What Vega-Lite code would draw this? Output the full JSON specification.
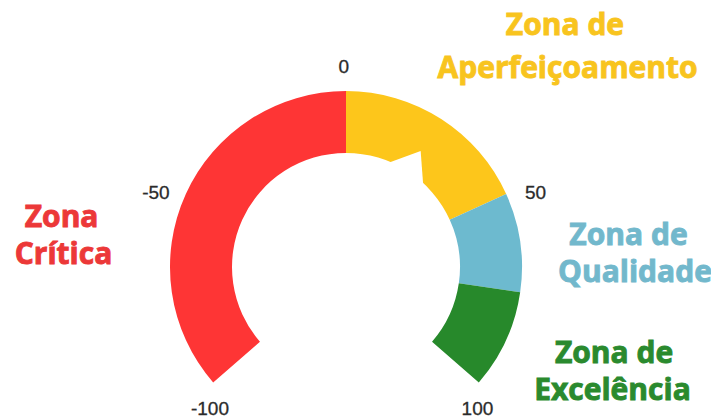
{
  "$schema": "https://vega.github.io/schema/vega-lite/v6.json",
  "width": 711,
  "height": 418,
  "autosize": {"type": "none"},
  "padding": 0,
  "background": "white",
  "config": {"view": {"stroke": null}},
  "datasets": {
    "zonas": [
      {"zona": "Crítica", "de": -100, "ate": 0},
      {"zona": "Aperfeiçoamento", "de": 0, "ate": 50},
      {"zona": "Qualidade", "de": 50, "ate": 75},
      {"zona": "Excelência", "de": 75, "ate": 100}
    ],
    "nps": [{"nps": 25}],
    "escala": [
      {"rotulo": "-100", "x": -77.3, "y": -84.1},
      {"rotulo": "-50", "x": -108.0, "y": 38.6},
      {"rotulo": "0", "x": -1.3, "y": 110.2},
      {"rotulo": "50", "x": 107.7, "y": 38.6},
      {"rotulo": "100", "x": 74.7, "y": -84.1}
    ],
    "titulos": [
      {"zona": "Crítica", "linha": "Zona", "x": -161.6, "y": 22.7},
      {"zona": "Crítica", "linha": "Crítica", "x": -160.5, "y": 1.7},
      {"zona": "Aperfeiçoamento", "linha": "Zona de", "x": 124.4, "y": 131.8},
      {"zona": "Aperfeiçoamento", "linha": "Aperfeiçoamento", "x": 125.9, "y": 107.4},
      {"zona": "Qualidade", "linha": "Zona de", "x": 160.5, "y": 12.5},
      {"zona": "Qualidade", "linha": "Qualidade", "x": 164.2, "y": -8.5},
      {"zona": "Excelência", "linha": "Zona de", "x": 152.3, "y": -54.5},
      {"zona": "Excelência", "linha": "Excelência", "x": 151.4, "y": -75.6}
    ]
  },
  "resolve": {"scale": {"color": "independent"}},
  "layer": [
    {
      "data": {"name": "zonas"},
      "mark": {"type": "arc", "innerRadius": 114, "outerRadius": 176},
      "encoding": {
        "x": {"datum": 0, "type": "quantitative", "scale": {"domain": [-196.59, 207.39], "nice": false, "zero": false}, "axis": null},
        "y": {"datum": 0, "type": "quantitative", "scale": {"domain": [-85.8, 151.7], "nice": false, "zero": false}, "axis": null},
        "theta": {"field": "de", "type": "quantitative", "stack": null, "scale": {"domain": [-100, 100], "range": [-2.2864, 2.2864]}},
        "theta2": {"field": "ate"},
        "color": {"field": "zona", "type": "nominal", "legend": null,
          "scale": {"domain": ["Crítica", "Aperfeiçoamento", "Qualidade", "Excelência"], "range": ["#FE3535", "#FDC61B", "#6DBACF", "#27892B"]}}
      }
    },
    {
      "data": {"name": "nps"},
      "mark": {"type": "point", "shape": "M0,-1L0.2,-0.735L-0.2,-0.735Z", "size": 76176, "filled": true, "color": "white", "opacity": 1, "strokeWidth": 0},
      "encoding": {
        "x": {"datum": 0, "type": "quantitative", "scale": {"domain": [-196.59, 207.39], "nice": false, "zero": false}, "axis": null},
        "y": {"datum": 0, "type": "quantitative", "scale": {"domain": [-85.8, 151.7], "nice": false, "zero": false}, "axis": null},
        "angle": {"field": "nps", "type": "quantitative", "scale": {"domain": [-100, 100], "range": [-131, 131]}}
      }
    },
    {
      "data": {"name": "escala"},
      "mark": {"type": "text", "font": "Liberation Sans", "fontSize": 19, "color": "#2B2B2B", "stroke": "#2B2B2B", "strokeWidth": 0.3, "align": "center", "baseline": "alphabetic"},
      "encoding": {
        "x": {"field": "x", "type": "quantitative", "scale": {"domain": [-196.59, 207.39], "nice": false, "zero": false}, "axis": null},
        "y": {"field": "y", "type": "quantitative", "scale": {"domain": [-85.8, 151.7], "nice": false, "zero": false}, "axis": null},
        "text": {"field": "rotulo", "type": "nominal"}
      }
    },
    {
      "data": {"name": "titulos"},
      "mark": {"type": "text", "font": "Open Sans", "fontSize": 30, "fontWeight": "bold", "strokeWidth": 0.9, "align": "center", "baseline": "alphabetic"},
      "encoding": {
        "x": {"field": "x", "type": "quantitative", "scale": {"domain": [-196.59, 207.39], "nice": false, "zero": false}, "axis": null},
        "y": {"field": "y", "type": "quantitative", "scale": {"domain": [-85.8, 151.7], "nice": false, "zero": false}, "axis": null},
        "text": {"field": "linha", "type": "nominal"},
        "color": {"field": "zona", "type": "nominal", "legend": null,
          "scale": {"domain": ["Crítica", "Aperfeiçoamento", "Qualidade", "Excelência"], "range": ["#EC3838", "#F8C41E", "#72B8CC", "#2A8A2E"]}},
        "stroke": {"field": "zona", "type": "nominal", "legend": null,
          "scale": {"domain": ["Crítica", "Aperfeiçoamento", "Qualidade", "Excelência"], "range": ["#EC3838", "#F8C41E", "#72B8CC", "#2A8A2E"]}}
      }
    }
  ]
}
